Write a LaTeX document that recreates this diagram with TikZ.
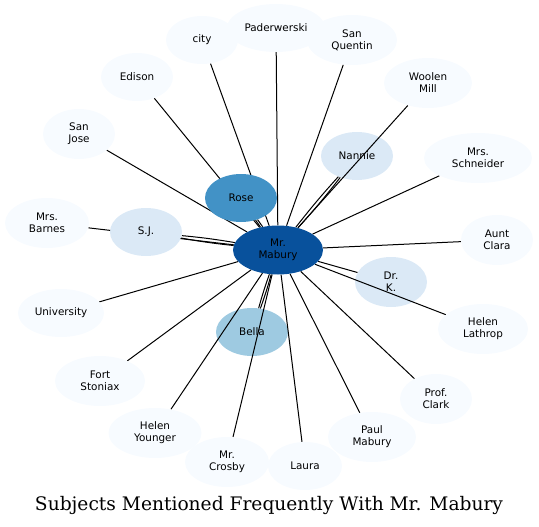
\documentclass[tikz,border=0pt]{standalone}
\usepackage{fontspec}
\setmainfont{DejaVu Sans}
\newfontfamily\titlefont{DejaVu Serif}
\usetikzlibrary{shapes.geometric}
\definecolor{cMab}{HTML}{08519C}
\definecolor{cRose}{HTML}{4292C6}
\definecolor{cBella}{HTML}{9ECAE1}
\definecolor{cLight}{HTML}{DBE9F6}
\definecolor{cOuter}{HTML}{F7FBFF}
\pgfdeclarelayer{bottom}
\pgfdeclarelayer{edges}
\pgfsetlayers{bottom,edges,main}
\tikzset{
  nd/.style 2 args={ellipse, draw=none, inner sep=0pt, minimum width=#1pt, minimum height=#2pt,
    align=center, font=\fontsize{10.4}{12}\selectfont, text=black},
  outer/.style={fill=cOuter},
  light/.style={fill=cLight},
  edge/.style={draw=black, line width=1pt}
}
\begin{document}
\begin{tikzpicture}[x=1pt,y=-1pt]
\useasboundingbox (0,0) rectangle (539,527);
% nodes drawn beneath edges
\begin{pgfonlayer}{bottom}
\node[nd={72}{48}, light] (nannie) at (357,156) {Nannie};
\node[nd={72}{50}, light] (drk) at (391,282) {Dr.\\K.};
\node[nd={72}{48}, fill=cBella] (bella) at (252,332) {Bella};
\end{pgfonlayer}
% nodes drawn above edges
\node[nd={90}{49}, fill=cMab] (mab) at (278,250) {Mr.\\Mabury};
\node[nd={72}{48}, fill=cRose] (rose) at (241,198) {Rose};
\node[nd={72}{48}, light] (sj) at (146,232) {S.J.};
\node[nd={72}{48}, outer] (city) at (202,40) {city};
\node[nd={98}{48}, outer] (pad) at (276,28) {Paderwerski};
\node[nd={90}{50}, outer] (sq) at (352,40) {San\\Quentin};
\node[nd={88}{50}, outer] (wm) at (428,83) {Woolen\\Mill};
\node[nd={108}{50}, outer] (schn) at (478,158) {Mrs.\\Schneider};
\node[nd={72}{50}, outer] (clara) at (497,240) {Aunt\\Clara};
\node[nd={90}{50}, outer] (lath) at (483,329) {Helen\\Lathrop};
\node[nd={72}{50}, outer] (clark) at (436,399) {Prof.\\Clark};
\node[nd={88}{50}, outer] (paul) at (372,437) {Paul\\Mabury};
\node[nd={74}{48}, outer] (laura) at (305,466) {Laura};
\node[nd={84}{50}, outer] (crosby) at (227,462) {Mr.\\Crosby};
\node[nd={93}{50}, outer] (younger) at (155,433) {Helen\\Younger};
\node[nd={90}{50}, outer] (fort) at (100,381) {Fort\\Stoniax};
\node[nd={86}{48}, outer] (univ) at (61,313) {University};
\node[nd={84}{50}, outer] (barnes) at (47,223) {Mrs.\\Barnes};
\node[nd={72}{50}, outer] (sanjose) at (79,134) {San\\Jose};
\node[nd={72}{48}, outer] (edison) at (137,77) {Edison};
% title
\node[inner sep=0pt] (title) at (269,505) {\resizebox{468pt}{!}{\titlefont Subjects Mentioned Frequently With Mr. Mabury}};
% edges
\begin{pgfonlayer}{edges}
\foreach \t in {city,pad,sq,wm,schn,clara,lath,clark,paul,laura,crosby,younger,fort,univ,barnes,sanjose,edison,drk}
  {\draw[edge] (mab) -- (\t);}
\foreach \t in {rose,sj,nannie,bella}
  {\draw[edge] (mab) to[bend left=2] (\t);
   \draw[edge] (mab) to[bend right=2] (\t);}
\end{pgfonlayer}
\end{tikzpicture}
\end{document}
